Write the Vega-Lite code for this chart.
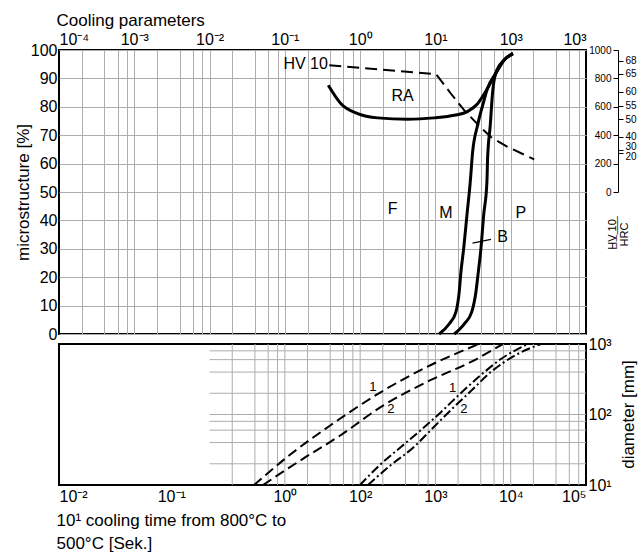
{
  "$schema": "https://vega.github.io/schema/vega-lite/v6.json",
  "padding": {"left": 13, "top": 10, "right": 0, "bottom": 0},
  "config": {
    "font": "Liberation Sans",
    "view": {"stroke": "black", "strokeWidth": 2},
    "axis": {"labelColor": "black", "titleColor": "black", "labelFont": "Liberation Sans", "titleFont": "Liberation Sans", "titleFontWeight": "normal", "gridColor": "#adadad", "gridWidth": 1, "gridOpacity": 1},
    "text": {"font": "Liberation Sans", "color": "black"}
  },
  "datasets": {
    "curves": [
      {"curve": "RA", "t": 0.377, "pct": 87.6}, {"curve": "RA", "t": 0.556, "pct": 81.1}, {"curve": "RA", "t": 0.927, "pct": 77.6}, {"curve": "RA", "t": 1.71, "pct": 76.1}, {"curve": "RA", "t": 4.28, "pct": 75.6}, {"curve": "RA", "t": 9.64, "pct": 76.1}, {"curve": "RA", "t": 17.8, "pct": 77.0}, {"curve": "RA", "t": 26.9, "pct": 78.4}, {"curve": "RA", "t": 36.3, "pct": 81.1}, {"curve": "RA", "t": 49.0, "pct": 86.4}, {"curve": "RA", "t": 63.1, "pct": 91.7}, {"curve": "RA", "t": 81.3, "pct": 96.4}, {"curve": "RA", "t": 107, "pct": 98.7},
      {"curve": "M", "t": 11.2, "pct": 0}, {"curve": "M", "t": 15.3, "pct": 3.6}, {"curve": "M", "t": 18.7, "pct": 7.7}, {"curve": "M", "t": 20.7, "pct": 14.8}, {"curve": "M", "t": 21.8, "pct": 21.8}, {"curve": "M", "t": 23.7, "pct": 30.0}, {"curve": "M", "t": 26.2, "pct": 41.8}, {"curve": "M", "t": 29.0, "pct": 53.5}, {"curve": "M", "t": 31.2, "pct": 64.1}, {"curve": "M", "t": 36.3, "pct": 73.5}, {"curve": "M", "t": 44.5, "pct": 82.5}, {"curve": "M", "t": 49.0, "pct": 86.4}, {"curve": "M", "t": 63.1, "pct": 91.7}, {"curve": "M", "t": 81.3, "pct": 96.4}, {"curve": "M", "t": 107, "pct": 98.7},
      {"curve": "B", "t": 17.8, "pct": 0}, {"curve": "B", "t": 24.2, "pct": 3.6}, {"curve": "B", "t": 30.3, "pct": 7.7}, {"curve": "B", "t": 34.5, "pct": 14.8}, {"curve": "B", "t": 37.1, "pct": 21.8}, {"curve": "B", "t": 40.2, "pct": 30.0}, {"curve": "B", "t": 43.7, "pct": 41.8}, {"curve": "B", "t": 48.3, "pct": 53.5}, {"curve": "B", "t": 49.3, "pct": 61.7}, {"curve": "B", "t": 53.5, "pct": 73.5}, {"curve": "B", "t": 57.5, "pct": 85.2}, {"curve": "B", "t": 63.1, "pct": 91.7}, {"curve": "B", "t": 81.3, "pct": 96.4}, {"curve": "B", "t": 107, "pct": 98.7}
    ],
    "leader": [{"t": 31.1, "pct": 32.0}, {"t": 54.6, "pct": 33.3}],
    "labels": [
      {"label": "F", "t": 2.7, "pct": 43.9},
      {"label": "M", "t": 13.8, "pct": 42.7},
      {"label": "P", "t": 136, "pct": 42.7},
      {"label": "B", "t": 78, "pct": 34.2},
      {"label": "RA", "t": 3.66, "pct": 83.9}
    ],
    "hvlabel": [{"label": "HV 10", "t": 0.373, "pct": 95.1}],
    "hv": [
      {"t": 0.389, "hv": 892}, {"t": 10.2, "hv": 829}, {"t": 16.1, "hv": 692}, {"t": 24.2, "hv": 575}, {"t": 39.4, "hv": 458}, {"t": 54.6, "hv": 387}, {"t": 91.0, "hv": 317}, {"t": 205, "hv": 230}
    ],
    "hrc": [
      {"hrc": 68, "hv": 925}, {"hrc": 65, "hv": 831}, {"hrc": 60, "hv": 706}, {"hrc": 55, "hv": 607}, {"hrc": 50, "hv": 513}, {"hrc": 40, "hv": 388}, {"hrc": 30, "hv": 299}, {"hrc": 20, "hv": 278}
    ],
    "bgx": [{"gx": 2}, {"gx": 4}, {"gx": 6}, {"gx": 8}, {"gx": 10}, {"gx": 20}, {"gx": 40}, {"gx": 60}, {"gx": 80}, {"gx": 100}, {"gx": 200}, {"gx": 400}, {"gx": 600}, {"gx": 800}, {"gx": 1000}, {"gx": 2000}, {"gx": 4000}, {"gx": 6000}, {"gx": 8000}, {"gx": 10000}, {"gx": 20000}, {"gx": 40000}, {"gx": 60000}, {"gx": 80000}],
    "bgy": [{"gy": 20}, {"gy": 40}, {"gy": 60}, {"gy": 80}, {"gy": 100}, {"gy": 200}, {"gy": 400}, {"gy": 600}, {"gy": 800}],
    "bcurves": [
      {"series": "dashed 1", "t": 3.89, "d": 10}, {"series": "dashed 1", "t": 12.05, "d": 27.5}, {"series": "dashed 1", "t": 40.9, "d": 71.0}, {"series": "dashed 1", "t": 189, "d": 208}, {"series": "dashed 1", "t": 871, "d": 504}, {"series": "dashed 1", "t": 3786, "d": 1000},
      {"series": "dashed 2", "t": 5.12, "d": 10}, {"series": "dashed 2", "t": 16.4, "d": 22.6}, {"series": "dashed 2", "t": 55.6, "d": 51.2}, {"series": "dashed 2", "t": 189, "d": 128}, {"series": "dashed 2", "t": 871, "d": 309}, {"series": "dashed 2", "t": 2958, "d": 556}, {"series": "dashed 2", "t": 7870, "d": 1000},
      {"series": "dashdot 1", "t": 99.3, "d": 10}, {"series": "dashdot 1", "t": 189, "d": 19.9}, {"series": "dashdot 1", "t": 348, "d": 34.6}, {"series": "dashdot 1", "t": 642, "d": 60.3}, {"series": "dashdot 1", "t": 1183, "d": 108}, {"series": "dashdot 1", "t": 2182, "d": 202}, {"series": "dashdot 1", "t": 4018, "d": 363}, {"series": "dashdot 1", "t": 7413, "d": 612}, {"series": "dashdot 1", "t": 16900, "d": 1000},
      {"series": "dashdot 2", "t": 127, "d": 10}, {"series": "dashdot 2", "t": 256, "d": 19.2}, {"series": "dashdot 2", "t": 518, "d": 34.6}, {"series": "dashdot 2", "t": 871, "d": 60.3}, {"series": "dashdot 2", "t": 1607, "d": 116}, {"series": "dashdot 2", "t": 2958, "d": 215}, {"series": "dashdot 2", "t": 5458, "d": 401}, {"series": "dashdot 2", "t": 11700, "d": 698}, {"series": "dashdot 2", "t": 25200, "d": 1000}
    ],
    "blabels": [
      {"label": "1", "t": 147, "d": 245}, {"label": "2", "t": 256, "d": 121}, {"label": "1", "t": 1690, "d": 240}, {"label": "2", "t": 2388, "d": 121}
    ]
  },
  "vconcat": [
    {
      "width": 527,
      "height": 284,
      "layer": [
        {
          "data": {"name": "curves"},
          "mark": {"type": "line", "color": "black", "strokeWidth": 3, "interpolate": "monotone"},
          "encoding": {
            "x": {"field": "t", "type": "quantitative", "scale": {"type": "log", "domain": [0.0001, 1000], "nice": false},
              "axis": {"orient": "top", "values": [0.0001, 0.001, 0.01, 0.1, 1, 10, 100, 1000],
                "labelExpr": "datum.value < 0.0005 ? '10⁻⁴' : datum.value < 0.005 ? '10⁻³' : datum.value < 0.05 ? '10⁻²' : datum.value < 0.5 ? '10⁻¹' : datum.value < 5 ? '10⁰' : datum.value < 50 ? '10¹' : '10³'",
                "grid": false, "ticks": false, "domain": false, "labelFlush": true, "labelOverlap": false, "labelFontSize": 16, "labelPadding": 3,
                "title": "Cooling parameters", "titleFontSize": 17, "titleAnchor": "start", "titleAlign": "left", "titleX": -3, "titleY": -30, "titleBaseline": "middle"}},
            "y": {"field": "pct", "type": "quantitative", "scale": {"domain": [0, 100], "nice": false},
              "axis": {"orient": "left", "values": [0, 10, 20, 30, 40, 50, 60, 70, 80, 90, 100], "grid": true, "ticks": false, "domain": false, "labelFontSize": 16, "labelPadding": 2, "labelOverlap": false,
                "title": "microstructure [%]", "titleFontSize": 17, "titleX": -36, "titleY": 142, "titleAngle": 270, "titleBaseline": "middle", "titleAlign": "center"}},
            "detail": {"field": "curve"}
          }
        },
        {
          "data": {"name": "leader"},
          "mark": {"type": "line", "color": "black", "strokeWidth": 1.2},
          "encoding": {
            "x": {"field": "t", "type": "quantitative", "scale": {"type": "log", "domain": [0.0001, 1000], "nice": false},
              "axis": {"orient": "bottom", "values": [0.0002, 0.0004, 0.0006, 0.0008, 0.001, 0.002, 0.004, 0.006, 0.008, 0.01, 0.02, 0.04, 0.06, 0.08, 0.1, 0.2, 0.4, 0.6, 0.8, 1, 2, 4, 6, 8, 10, 20, 40, 60, 80, 100, 200, 400, 600, 800],
                "labels": false, "ticks": false, "domain": false, "grid": true, "title": null}},
            "y": {"field": "pct", "type": "quantitative", "scale": {"domain": [0, 100], "nice": false}, "axis": null}
          }
        },
        {
          "data": {"name": "labels"},
          "mark": {"type": "text", "fontSize": 16, "align": "center", "baseline": "middle"},
          "encoding": {
            "x": {"field": "t", "type": "quantitative", "scale": {"type": "log", "domain": [0.0001, 1000], "nice": false}, "axis": null},
            "y": {"field": "pct", "type": "quantitative", "scale": {"domain": [0, 100], "nice": false}, "axis": null},
            "text": {"field": "label"}
          }
        },
        {
          "data": {"name": "hvlabel"},
          "mark": {"type": "text", "fontSize": 16, "align": "right", "baseline": "middle"},
          "encoding": {
            "x": {"field": "t", "type": "quantitative", "scale": {"type": "log", "domain": [0.0001, 1000], "nice": false}, "axis": null},
            "y": {"field": "pct", "type": "quantitative", "scale": {"domain": [0, 100], "nice": false}, "axis": null},
            "text": {"field": "label"}
          }
        },
        {
          "data": {"name": "hv"},
          "mark": {"type": "line", "color": "black", "strokeWidth": 2, "strokeDash": [12, 6]},
          "encoding": {
            "x": {"field": "t", "type": "quantitative", "scale": {"type": "log", "domain": [0.0001, 1000], "nice": false}, "axis": null},
            "y": {"field": "hv", "type": "quantitative", "scale": {"domain": [0, 1000], "range": [142, 0], "nice": false},
              "axis": {"orient": "left", "offset": -559, "values": [0, 200, 400, 600, 800, 1000], "format": "d", "grid": false, "ticks": true, "tickSize": 5, "tickColor": "black", "domain": true, "domainColor": "black", "labelFontSize": 10, "labelPadding": 2, "labelOverlap": false,
                "title": "H̲V̲ ̲1̲0̲", "titleFontSize": 11, "titleAngle": 270, "titleX": -6, "titleY": 184, "titleBaseline": "middle", "titleAlign": "center"}}
          }
        },
        {
          "data": {"name": "hrc"},
          "mark": {"type": "point", "opacity": 0},
          "encoding": {
            "y": {"field": "hv", "type": "quantitative", "scale": {"domain": [0, 1000], "range": [142, 0], "nice": false},
              "axis": {"orient": "right", "offset": 32, "values": [925, 831, 706, 607, 513, 388, 299, 278],
                "labelExpr": "datum.value > 900 ? '68' : datum.value > 800 ? '65' : datum.value > 650 ? '60' : datum.value > 560 ? '55' : datum.value > 450 ? '50' : datum.value > 340 ? '40' : datum.value > 290 ? '30' : '20'",
                "grid": false, "ticks": true, "tickSize": 5, "tickColor": "black", "domain": false, "labelFontSize": 10, "labelPadding": 2, "labelOverlap": false,
                "labelOffset": {"condition": [{"test": "datum.value < 290", "value": 4}, {"test": "datum.value < 310", "value": -3}], "value": 0},
                "title": "HRC", "titleFontSize": 11, "titleAngle": 270, "titleX": 6, "titleY": 184, "titleBaseline": "middle", "titleAlign": "center"}}
          }
        }
      ],
      "resolve": {"scale": {"y": "independent"}, "axis": {"x": "independent", "y": "independent"}}
    },
    {
      "width": 527,
      "height": 141,
      "layer": [
        {
          "data": {"name": "bgx"},
          "mark": {"type": "rule", "color": "#adadad", "strokeWidth": 1},
          "encoding": {
            "x": {"field": "gx", "type": "quantitative", "scale": {"type": "log", "domain": [0.01, 100000], "nice": false}, "axis": null},
            "y": {"datum": 10, "type": "quantitative", "scale": {"type": "log", "domain": [10, 1000], "nice": false}, "axis": null},
            "y2": {"datum": 1000}
          }
        },
        {
          "data": {"name": "bgy"},
          "mark": {"type": "rule", "color": "#adadad", "strokeWidth": 1},
          "encoding": {
            "y": {"field": "gy", "type": "quantitative", "scale": {"type": "log", "domain": [10, 1000], "nice": false}, "axis": null},
            "x": {"datum": 1, "type": "quantitative", "scale": {"type": "log", "domain": [0.01, 100000], "nice": false}, "axis": null},
            "x2": {"datum": 100000}
          }
        },
        {
          "data": {"name": "bcurves"},
          "mark": {"type": "line", "color": "black", "strokeWidth": 2, "interpolate": "monotone"},
          "encoding": {
            "x": {"field": "t", "type": "quantitative", "scale": {"type": "log", "domain": [0.01, 100000], "nice": false},
              "axis": {"orient": "bottom", "values": [0.01, 0.31, 10, 100, 1000, 10000, 100000],
                "labelExpr": "datum.value < 0.05 ? '10⁻²' : datum.value < 1 ? '10⁻¹' : datum.value < 50 ? '10⁰' : datum.value < 500 ? '10²' : datum.value < 5000 ? '10³' : datum.value < 50000 ? '10⁴' : '10⁵'",
                "grid": false, "ticks": false, "domain": false, "labelFlush": true, "labelOverlap": false, "labelFontSize": 16, "labelPadding": 3,
                "title": ["10¹ cooling time from 800°C to", "500°C [Sek.]"], "titleFontSize": 17, "titleAnchor": "start", "titleAlign": "left", "titleX": -3, "titleY": 27, "titleBaseline": "top", "titleLineHeight": 23}},
            "y": {"field": "d", "type": "quantitative", "scale": {"type": "log", "domain": [10, 1000], "nice": false},
              "axis": {"orient": "right", "values": [10, 100, 1000], "labelExpr": "datum.value < 50 ? '10¹' : datum.value < 500 ? '10²' : '10³'",
                "grid": false, "ticks": false, "domain": false, "labelFontSize": 16, "labelPadding": 2, "labelOverlap": false,
                "title": "diameter [mm]", "titleFontSize": 17, "titleAngle": 270, "titleX": 42, "titleY": 70, "titleBaseline": "middle", "titleAlign": "center"}},
            "strokeDash": {"field": "series", "type": "nominal",
              "scale": {"domain": ["dashed 1", "dashed 2", "dashdot 1", "dashdot 2"], "range": [[10, 5], [10, 5], [9, 3, 2, 3], [9, 3, 2, 3]]},
              "legend": null}
          }
        },
        {
          "data": {"name": "blabels"},
          "mark": {"type": "text", "fontSize": 13, "align": "center", "baseline": "middle"},
          "encoding": {
            "x": {"field": "t", "type": "quantitative", "scale": {"type": "log", "domain": [0.01, 100000], "nice": false}, "axis": null},
            "y": {"field": "d", "type": "quantitative", "scale": {"type": "log", "domain": [10, 1000], "nice": false}, "axis": null},
            "text": {"field": "label"}
          }
        }
      ],
      "resolve": {"axis": {"x": "independent", "y": "independent"}}
    }
  ],
  "spacing": 10,
  "bounds": "flush"
}
